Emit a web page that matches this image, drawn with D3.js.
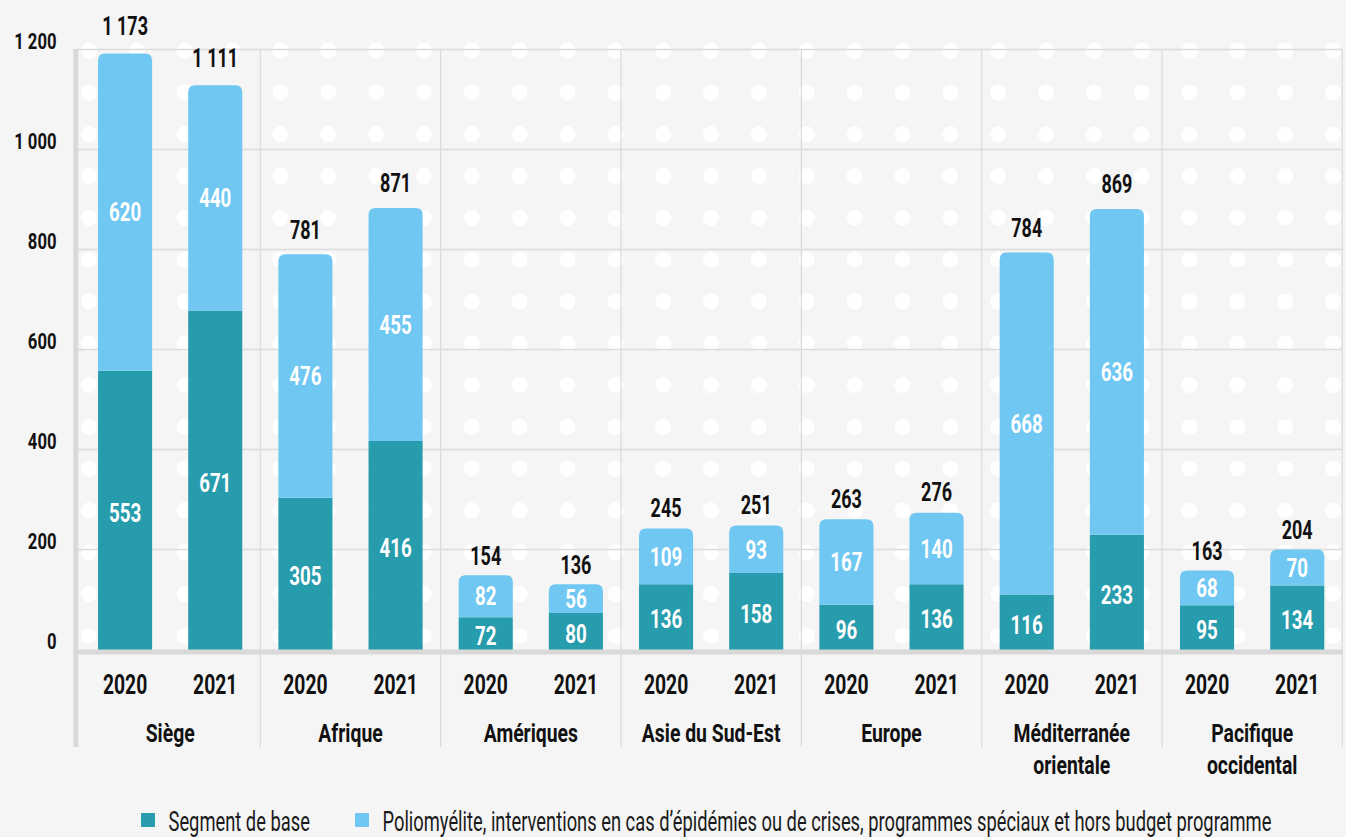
<!DOCTYPE html>
<html>
<head>
<meta charset="utf-8">
<script src="https://cdn.jsdelivr.net/npm/d3@7"></script>
<style>
  html, body { margin: 0; padding: 0; background: #f5f5f5; }
  svg { display: block; }
  text { font-family: Roboto, "Liberation Sans", sans-serif; }
</style>
</head>
<body>
<svg id="chart" width="1346" height="837"></svg>
<script>
// ---------------- data ----------------
const categories = ["Siège", "Afrique", "Amériques", "Asie du Sud-Est", "Europe", "Méditerranée orientale", "Pacifique occidental"];
const categoryLines = [["Siège"], ["Afrique"], ["Amériques"], ["Asie du Sud-Est"], ["Europe"], ["Méditerranée", "orientale"], ["Pacifique", "occidental"]];
const years = ["2020", "2021"];
const base2020 = [553, 305, 72, 136, 96, 116, 95];
const base2021 = [671, 416, 80, 158, 136, 233, 134];
const other2020 = [620, 476, 82, 109, 167, 668, 68];
const other2021 = [440, 455, 56, 93, 140, 636, 70];
const yTicks = [0, 200, 400, 600, 800, 1000, 1200];
const seriesNames = ["Segment de base", "Poliomyélite, interventions en cas d’épidémies ou de crises, programmes spéciaux et hors budget programme"];
const seriesColors = ["#279cad", "#6fc7f2"];

// ---------------- build rows ----------------
const rows = [];
categories.forEach((c, i) => {
  rows.push({ cat: c, year: "2020", base: base2020[i], other: other2020[i] });
  rows.push({ cat: c, year: "2021", base: base2021[i], other: other2021[i] });
});
const stacked = d3.stack().keys(["base", "other"])(rows);

// ---------------- scales ----------------
const svg = d3.select("#chart");
const W = 1346, H = 837;
const plotLeft = 80, plotRight = 1342.3;
const x0 = d3.scaleBand().domain(categories).range([plotLeft, plotRight]).paddingInner(0).paddingOuter(0);
const x1 = d3.scaleBand().domain(years).range([0, x0.bandwidth()]).paddingInner(0.4).paddingOuter(0.2);
const yGrid = d3.scaleLinear().domain([0, 1200]).range([649.5, 49.5]);
const yBar = d3.scaleLinear().domain([0, 1200]).range([654, 39.6]);
const yLab = d3.scaleLinear().domain([0, 1200]).range([644.7, 20.7]);
const fmt = d3.formatLocale({ decimal: ",", thousands: " ", grouping: [3], currency: ["", "€"] }).format(",d");

svg.append("rect").attr("width", W).attr("height", H).attr("fill", "#f5f5f5");

// text helper with horizontal condensing
function txt(parent, x, y, str, o) {
  const g = parent.append("g").attr("transform", `translate(${x},${y})`);
  return g.append("text")
    .attr("transform", `scale(${o.sx || 0.72},1)`)
    .attr("text-anchor", o.anchor || "middle")
    .attr("font-size", o.size)
    .attr("font-weight", o.weight || 700)
    .attr("fill", o.fill || "#111")
    .text(str);
}

// ---------------- dotted background ----------------
svg.append("clipPath").attr("id", "dotclip").append("rect")
  .attr("x", 60).attr("y", 30).attr("width", plotRight - 60).attr("height", 640);
const dotsG = svg.append("g").attr("clip-path", "url(#dotclip)");
const dotX = d3.range(0, 27).map(i => 89 + 47.85 * i);
const dotY = d3.range(0, 15).map(j => 50.7 + 41.8 * j);
dotY.forEach(cy => {
  dotsG.selectAll(null).data(dotX).enter().append("circle")
    .attr("cx", d => d).attr("cy", cy).attr("r", 8).attr("fill", "#ffffff");
});

// ---------------- grid ----------------
const gridColor = "#dcdcdc";
svg.append("g").selectAll("line").data(yTicks.filter(v => v > 0)).enter().append("line")
  .attr("x1", 78).attr("x2", plotRight)
  .attr("y1", d => yGrid(d)).attr("y2", d => yGrid(d))
  .attr("stroke", gridColor).attr("stroke-width", 1.3);
const sepX = categories.slice(1).map(c => x0(c)).concat([plotRight]);
svg.append("g").selectAll("line").data(sepX).enter().append("line")
  .attr("x1", d => d).attr("x2", d => d)
  .attr("y1", yGrid(1200)).attr("y2", 747)
  .attr("stroke", gridColor).attr("stroke-width", 1.3);

// ---------------- bars ----------------
function roundTop(x, y, w, h, r) {
  r = Math.min(r, h, w / 2);
  return `M${x},${y + h} V${y + r} Q${x},${y} ${x + r},${y} H${x + w - r} Q${x + w},${y} ${x + w},${y + r} V${y + h} Z`;
}
const barsG = svg.append("g");
stacked.forEach((layer, li) => {
  barsG.selectAll(null).data(layer).enter().append("path")
    .attr("fill", seriesColors[li])
    .attr("d", d => {
      const x = x0(d.data.cat) + x1(d.data.year);
      const w = x1.bandwidth();
      const yTop = yBar(d[1]), yBot = yBar(d[0]);
      if (li === stacked.length - 1) return roundTop(x, yTop, w, yBot - yTop, 7);
      return `M${x},${yBot} V${yTop} H${x + w} V${yBot} Z`;
    });
});

// ---------------- axes ----------------
svg.append("rect").attr("x", 73.3).attr("y", yGrid(1200) - 0.5).attr("width", 5).attr("height", 747 - yGrid(1200) + 0.5).attr("fill", "#d9d9d9");
svg.append("rect").attr("x", 73.3).attr("y", 649.5).attr("width", plotRight - 73.3).attr("height", 5).attr("fill", "#d9d9d9");

// y tick labels
const yAxisG = svg.append("g");
yTicks.forEach(v => txt(yAxisG, 56.5, yGrid(v) - 0.5, fmt(v), { size: 22.5, anchor: "end", sx: 0.74 }));

// segment value labels
const labG = svg.append("g");
stacked.forEach((layer, li) => {
  layer.forEach(d => {
    const cx = x0(d.data.cat) + x1(d.data.year) + x1.bandwidth() / 2;
    const cy = (yBar(d[0]) + yBar(d[1])) / 2;
    txt(labG, cx, cy + 9.3, fmt(d[1] - d[0]), { size: 26, fill: "#ffffff", sx: 0.72 });
  });
});
// totals
const topLayer = stacked[stacked.length - 1];
topLayer.forEach(d => {
  const cx = x0(d.data.cat) + x1(d.data.year) + x1.bandwidth() / 2;
  txt(labG, cx, yLab(d[1]), fmt(d[1]), { size: 25, sx: 0.72 });
});

// x labels
const xG = svg.append("g");
rows.forEach(r => {
  const cx = x0(r.cat) + x1(r.year) + x1.bandwidth() / 2;
  txt(xG, cx, 693.5, r.year, { size: 28, sx: 0.69 });
});
categories.forEach((c, i) => {
  const cx = x0(c) + x0.bandwidth() / 2;
  categoryLines[i].forEach((line, k) => txt(xG, cx, 742 + k * 31.5, line, { size: 25.5, sx: 0.76 }));
});

// ---------------- legend ----------------
const legG = svg.append("g");
const legX = [141, 355];
seriesNames.forEach((n, i) => {
  legG.append("rect").attr("x", legX[i]).attr("y", 813).attr("width", 14).attr("height", 14).attr("fill", seriesColors[i]);
  txt(legG, legX[i] + 27.5, 830.5, n, { size: 28, weight: 400, anchor: "start", sx: 0.655, fill: "#1a1a1a" });
});
</script>
</body>
</html>
